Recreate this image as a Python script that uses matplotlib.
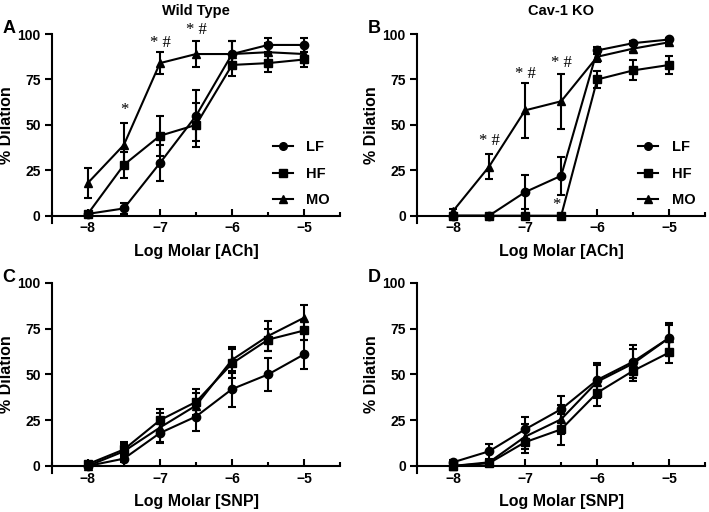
import matplotlib

matplotlib.use("Agg")
import matplotlib.pyplot as plt
from matplotlib.lines import Line2D
from matplotlib.ticker import MultipleLocator

plt.rcParams["font.family"] = ["Liberation Sans", "DejaVu Sans"]
plt.rcParams["font.weight"] = "bold"

log_conc = [-8, -7.5, -7, -6.5, -6, -5.5, -5]
series_names = ["LF", "HF", "MO"]

# panel A: wild type, ACh
wt_ach_lf = [1, 4, 29, 55, 89, 94, 94]
wt_ach_lf_err = [1, 3, 10, 14, 7, 4, 4]
wt_ach_hf = [1, 28, 44, 50, 83, 84, 86]
wt_ach_hf_err = [1, 7, 11, 12, 6, 5, 4]
wt_ach_mo = [18, 39, 84, 89, 89, 90, 89]
wt_ach_mo_err = [8, 12, 6, 7, 7, 5, 5]

# panel B: Cav-1 KO, ACh
ko_ach_lf = [0, 0, 13, 22, 91, 95, 97]
ko_ach_lf_err = [0, 0, 9.5, 10.5, 2, 1, 1]
ko_ach_hf = [0, 0, 0, 0, 75, 80, 83]
ko_ach_hf_err = [0, 0, 0, 0, 4.5, 5.5, 5]
ko_ach_mo = [2.5, 27, 58, 63, 87.5, 92, 95.5]
ko_ach_mo_err = [1, 7, 15, 15, 3, 2, 1.5]

# panel C: wild type, SNP
wt_snp_lf = [0, 4, 18, 27, 42, 50, 61]
wt_snp_lf_err = [0, 2, 5.5, 8, 10, 9, 8]
wt_snp_hf = [1, 9, 25, 35, 56, 69, 74]
wt_snp_hf_err = [1, 4, 6, 7, 8, 6, 5]
wt_snp_mo = [0, 8, 21, 33, 58, 71, 81]
wt_snp_mo_err = [0, 4, 8, 7, 7, 8, 7]

# panel D: Cav-1 KO, SNP
ko_snp_lf = [2, 8, 20, 31, 47, 57, 70]
ko_snp_lf_err = [1, 4, 6.5, 7, 9, 9, 8]
ko_snp_hf = [0, 1.5, 13, 20, 40, 52, 62]
ko_snp_hf_err = [0, 1, 6, 8.5, 7, 5.5, 6]
ko_snp_mo = [0, 2, 16, 25.5, 46, 56, 70]
ko_snp_mo_err = [0, 1, 7, 8, 9, 8, 7]

# significance marks: (x, y, text)
wt_ach_marks = [(-7.5, 58, "*"), (-7, 95, "* #"), (-6.5, 102, "* #")]
ko_ach_marks = [(-7.5, 41, "* #"), (-7, 78, "* #"), (-6.5, 84, "* #"), (-6.57, 6, "*")]

markers = {"LF": "o", "HF": "s", "MO": "^"}

panels = [
    ("A", "Wild Type", "Log Molar [ACh]", [0.073, 0.5645, 0.407, 0.369],
     [wt_ach_lf, wt_ach_hf, wt_ach_mo], [wt_ach_lf_err, wt_ach_hf_err, wt_ach_mo_err], wt_ach_marks, True),
    ("B", "Cav-1 KO", "Log Molar [ACh]", [0.588, 0.5645, 0.407, 0.369],
     [ko_ach_lf, ko_ach_hf, ko_ach_mo], [ko_ach_lf_err, ko_ach_hf_err, ko_ach_mo_err], ko_ach_marks, True),
    ("C", None, "Log Molar [SNP]", [0.073, 0.0756, 0.407, 0.372],
     [wt_snp_lf, wt_snp_hf, wt_snp_mo], [wt_snp_lf_err, wt_snp_hf_err, wt_snp_mo_err], [], False),
    ("D", None, "Log Molar [SNP]", [0.588, 0.0756, 0.407, 0.372],
     [ko_snp_lf, ko_snp_hf, ko_snp_mo], [ko_snp_lf_err, ko_snp_hf_err, ko_snp_mo_err], [], False),
]

fig = plt.figure(figsize=(7.09, 5.12), dpi=100)

for letter, title, xlabel, rect, values, errors, marks, show_legend in panels:
    ax = fig.add_axes(rect)
    for name, y, err in zip(series_names, values, errors):
        ax.errorbar(log_conc, y, yerr=err, color="black", marker=markers[name],
                    markersize=6, linewidth=1.5, elinewidth=1.5, capsize=3,
                    capthick=1.5, clip_on=False)
    for x, y, text in marks:
        ax.text(x, y, text, ha="center", va="center", fontsize=12,
                family="Liberation Serif", fontweight="normal")
    ax.set_xlim(-8.5, -4.5)
    ax.set_ylim(-4, 100)
    ax.spines["top"].set_visible(False)
    ax.spines["right"].set_visible(False)
    ax.spines["bottom"].set_position(("data", 0))
    ax.spines["left"].set_linewidth(1.5)
    ax.spines["bottom"].set_linewidth(1.5)
    ax.set_xticks([-8, -7, -6, -5])
    ax.set_xticklabels(["\u22128", "\u22127", "\u22126", "\u22125"])
    ax.xaxis.set_minor_locator(MultipleLocator(0.5))
    ax.set_yticks([0, 25, 50, 75, 100])
    ax.tick_params(axis="x", which="major", direction="in", length=5, width=1.5,
                   labelsize=10, pad=4)
    ax.tick_params(axis="x", which="minor", direction="in", length=3, width=1.5)
    ax.tick_params(axis="y", direction="out", length=5, width=1.5, labelsize=10, pad=3)
    ax.set_xlabel(xlabel, fontsize=11.5, fontweight="bold", labelpad=6)
    ax.set_ylabel("% Dilation", fontsize=11.5, fontweight="bold")
    ax.yaxis.set_label_coords(-0.13, 0.52)
    if title:
        ax.set_title(title, fontsize=10.5, fontweight="bold", pad=14)
    ax.text(-0.17, 1.03, letter, transform=ax.transAxes, fontsize=13,
            fontweight="bold", ha="left", va="center")
    if show_legend:
        handles = [Line2D([], [], color="black", marker=markers[n], markersize=5.5,
                          linewidth=1.5) for n in series_names]
        ax.legend(handles, series_names, loc="lower right", bbox_to_anchor=(1.0, 0.03),
                  frameon=False, fontsize=10.5, handlelength=1.4, handletextpad=0.9,
                  labelspacing=0.85, borderpad=0.2)

fig.savefig("out.png", dpi=100)
